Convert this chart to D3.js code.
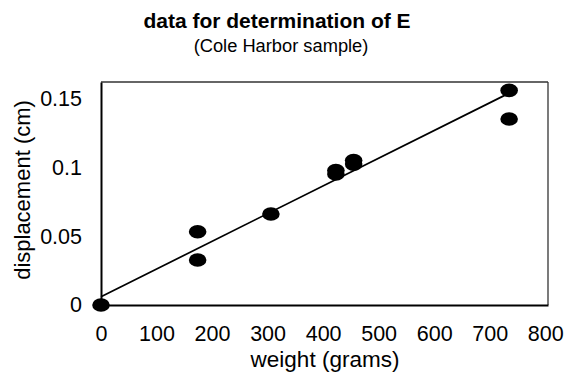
<!DOCTYPE html>
<html>
<head>
<meta charset="utf-8">
<script src="https://cdn.jsdelivr.net/npm/d3@7"></script>
<style>
  body { margin: 0; background: #fff; }
  text { font-family: "Liberation Sans", Arial, sans-serif; fill: #000; }
</style>
</head>
<body>
<svg width="578" height="378"></svg>
<script>
// measured points (weight in grams, displacement in cm)
var weights = [0, 174, 174, 306, 423, 423, 455, 455, 735, 735];
var displacements = [0, 0.0533, 0.0327, 0.0662, 0.0978, 0.0953, 0.1051, 0.1025, 0.1561, 0.1353];
var xTicks = [0, 100, 200, 300, 400, 500, 600, 700, 800];
var yTicks = [0, 0.05, 0.1, 0.15];
// fitted line
var trendIntercept = 0.006;
var trendSlope = 0.0002015;
var trendRange = [0, 735];

var plotLeft = 101, plotRight = 548, plotTop = 82, plotBottom = 305;

window.onload = function(){
  var svg = d3.select('svg');
  var x = d3.scaleLinear().domain([0, 805]).range([plotLeft, plotRight]);
  var y = d3.scaleLinear().domain([0, 0.1622]).range([plotBottom, plotTop]);

  // title
  svg.append('text')
      .attr('x', 277).attr('y', 28)
      .attr('text-anchor', 'middle')
      .style('font-size', '21px').style('font-weight', 'bold')
      .text('data for determination of E');
  svg.append('text')
      .attr('x', 281).attr('y', 52)
      .attr('text-anchor', 'middle')
      .style('font-size', '18.3px')
      .text('(Cole Harbor sample)');

  // frame: top and right thin
  svg.append('line')
      .attr('x1', plotLeft).attr('x2', plotRight).attr('y1', plotTop).attr('y2', plotTop)
      .attr('stroke', '#333').attr('stroke-width', 1.3);
  svg.append('line')
      .attr('x1', plotRight).attr('x2', plotRight).attr('y1', plotTop).attr('y2', plotBottom)
      .attr('stroke', '#333').attr('stroke-width', 1.3);

  var xAxis = svg.append('g')
      .attr('transform', 'translate(0,' + plotBottom + ')')
      .call(d3.axisBottom(x).tickValues(xTicks).tickSize(0).tickPadding(21).tickFormat(d3.format('d')));
  var yAxis = svg.append('g')
      .attr('transform', 'translate(' + plotLeft + ',0)')
      .call(d3.axisLeft(y).tickValues(yTicks).tickSize(0).tickPadding(19)
        .tickFormat(function(d){ return d === 0 ? '0' : String(d); }));
  [xAxis, yAxis].forEach(function(a){
    a.select('.domain').attr('stroke', '#000').attr('stroke-width', 2);
    a.selectAll('text').style('font-size', '21.5px').attr('fill', '#000')
      .style('font-family', '"Liberation Sans", Arial, sans-serif');
  });

  // axis titles
  svg.append('text')
      .attr('x', 325).attr('y', 367)
      .attr('text-anchor', 'middle')
      .style('font-size', '22.5px')
      .text('weight (grams)');
  svg.append('text')
      .attr('transform', 'translate(29.5,190) rotate(-90)')
      .attr('text-anchor', 'middle')
      .style('font-size', '22px')
      .text('displacement (cm)');

  // trend line
  svg.append('line')
      .attr('x1', x(trendRange[0])).attr('y1', y(trendIntercept + trendSlope * trendRange[0]))
      .attr('x2', x(trendRange[1])).attr('y2', y(trendIntercept + trendSlope * trendRange[1]))
      .attr('stroke', '#000').attr('stroke-width', 1.7);

  // points
  svg.selectAll('ellipse.pt').data(weights)
    .enter()
      .append('ellipse')
      .attr('class', 'pt')
      .attr('cx', function(d){ return x(d); })
      .attr('cy', function(d, i){ return y(displacements[i]); })
      .attr('rx', 8.8)
      .attr('ry', 6.8)
      .attr('fill', '#000');
}
</script>
</body>
</html>
